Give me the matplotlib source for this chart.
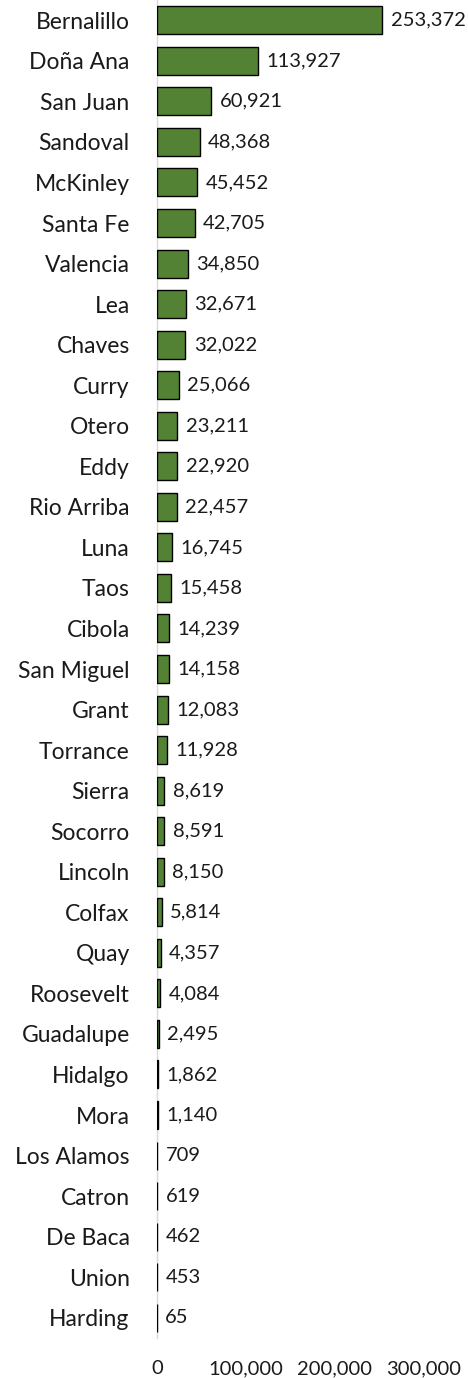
import matplotlib.pyplot as plt
from matplotlib.ticker import FuncFormatter

counties = ['Bernalillo', 'Doña Ana', 'San Juan', 'Sandoval', 'McKinley', 'Santa Fe',
            'Valencia', 'Lea', 'Chaves', 'Curry', 'Otero', 'Eddy', 'Rio Arriba', 'Luna',
            'Taos', 'Cibola', 'San Miguel', 'Grant', 'Torrance', 'Sierra', 'Socorro',
            'Lincoln', 'Colfax', 'Quay', 'Roosevelt', 'Guadalupe', 'Hidalgo', 'Mora',
            'Los Alamos', 'Catron', 'De Baca', 'Union', 'Harding']
values = [253372, 113927, 60921, 48368, 45452, 42705, 34850, 32671, 32022, 25066,
          23211, 22920, 22457, 16745, 15458, 14239, 14158, 12083, 11928, 8619, 8591,
          8150, 5814, 4357, 4084, 2495, 1862, 1140, 709, 619, 462, 453, 65]
ticks = [0, 100000, 200000, 300000]

plt.rcParams['font.family'] = ['Lato', 'DejaVu Sans']

fig = plt.figure(figsize=(4.68, 13.78), dpi=100)
ax = fig.add_axes([0.335, 0.029, 0.571, 0.971])

y = list(range(len(counties)))
ax.barh(y, values, height=0.69, color='#548235', edgecolor='black', linewidth=1, zorder=3)
ax.set_ylim(len(counties) - 0.5, -0.5)
ax.set_xlim(0, 300000)

# value labels to the right of each bar
for yi, v in zip(y, values):
    ax.annotate(f'{v:,}', (v, yi), xytext=(6, 0), textcoords='offset points',
                va='center', ha='left', fontsize=14.5, color='#1a1a1a')

ax.set_yticks(y)
ax.set_yticklabels(counties, fontsize=16.5, color='#1a1a1a')
ax.set_xticks(ticks)
ax.xaxis.set_major_formatter(FuncFormatter(lambda v, p: f'{int(v):,}'))
ax.tick_params(axis='x', labelsize=14.5, colors='#1a1a1a', length=0, pad=16)
ax.tick_params(axis='y', length=0, pad=19.5)

for s in ['top', 'right', 'bottom']:
    ax.spines[s].set_visible(False)
ax.spines['left'].set_color('#d9d9d9')
ax.spines['left'].set_linewidth(1)
ax.spines['left'].set_zorder(0.5)

fig.savefig('out.png', dpi=100)
